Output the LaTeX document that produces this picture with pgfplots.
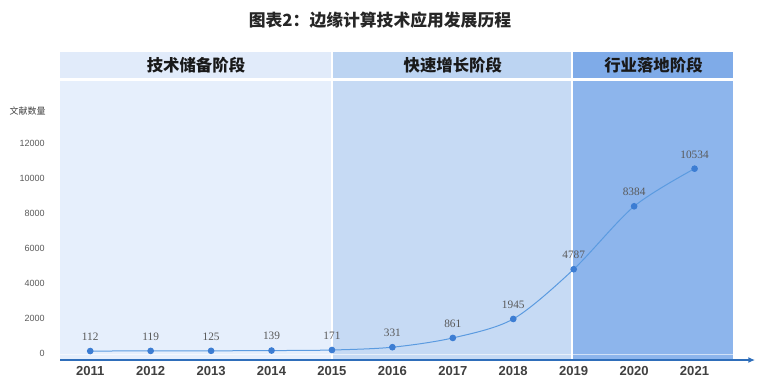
\documentclass[border=0pt]{standalone}
\usepackage{pgfplots}
\pgfplotsset{compat=1.18}
\usepackage{fontspec}
\setmainfont{Liberation Sans}
\newfontfamily\cjk{Noto Sans CJK SC}
\newfontfamily\numserif{Liberation Serif}
\usetikzlibrary{arrows.meta}
\definecolor{p1}{HTML}{E6EFFC}
\definecolor{p1h}{HTML}{E1EBFA}
\definecolor{p2}{HTML}{C6DAF4}
\definecolor{p2h}{HTML}{BCD4F2}
\definecolor{p3}{HTML}{8DB5EC}
\definecolor{p3h}{HTML}{7FABE8}
\definecolor{axblue}{HTML}{2F6EBA}
\definecolor{lineblue}{HTML}{5B9BE0}
\definecolor{markblue}{HTML}{3C7DD3}
\definecolor{txtgrey}{HTML}{595959}
\definecolor{darktxt}{HTML}{404040}
\begin{document}
\begin{tikzpicture}[x=1pt,y=1pt]
\path[use as bounding box] (0,0) rectangle (570,290.25);
\node[font=\cjk\bfseries\fontsize{12.6}{14}\selectfont, text=black!85] at (285,274.9) {图表2：边缘计算技术应用发展历程};
\begin{axis}[
  at={(45pt,20.25pt)}, anchor=south west,
  scale only axis, width=521.25pt, height=231pt,
  xmin=2010.5, xmax=2022.0, ymin=-400, ymax=17200,
  clip=false, axis on top,
  axis lines=left,
  x axis line style={-{Latex[length=5pt,width=4.5pt]}, line width=1.5pt, draw=axblue},
  y axis line style={draw=none},
  major tick length=0pt,
  tick style={draw=none},
  scaled y ticks=false,
  /pgf/number format/assume math mode=true,
  /pgf/number format/1000 sep={},
  xtick={2011,2012,...,2021},
  ytick={0,2000,...,12000},
  xticklabel style={font=\bfseries\fontsize{9.8}{11}\selectfont, text=darktxt, inner sep=0pt, anchor=north, yshift=-4.5pt},
  yticklabel style={font=\fontsize{6.75}{8}\selectfont, text=txtgrey, inner sep=0pt, anchor=east, xshift=-11.25pt},
  nodes near coords,
  nodes near coords style={font=\numserif\fontsize{8.5}{10}\selectfont, text=txtgrey, inner sep=0pt, anchor=south, yshift=7.5pt},
]
% panels
\fill[p1] (axis cs:2010.5,-400) rectangle (axis cs:2014.985,15543);
\fill[p2] (axis cs:2015.02,-400) rectangle (axis cs:2018.95,15543);
\fill[p3] (axis cs:2018.99,-400) rectangle (axis cs:2021.64,15543);
\fill[p1h] (axis cs:2010.5,15714) rectangle (axis cs:2014.985,17200);
\fill[p2h] (axis cs:2015.02,15714) rectangle (axis cs:2018.95,17200);
\fill[p3h] (axis cs:2018.99,15714) rectangle (axis cs:2021.64,17200);
\draw[white, opacity=0.6, line width=0.75pt] (axis cs:2010.5,-60) -- (axis cs:2021.64,-60);
\node[font=\cjk\bfseries\fontsize{12.3}{14}\selectfont, text=black!90] at (axis cs:2012.75,16457) {技术储备阶段};
\node[font=\cjk\bfseries\fontsize{12.3}{14}\selectfont, text=black!90] at (axis cs:2017,16457) {快速增长阶段};
\node[font=\cjk\bfseries\fontsize{12.3}{14}\selectfont, text=black!90] at (axis cs:2020.32,16457) {行业落地阶段};
\node[font=\cjk\fontsize{6.75}{8}\selectfont, text=darktxt, anchor=east, inner sep=0pt] at ([xshift=-10.5pt]axis cs:2010.5,13829) {文献数量};
\addplot[smooth, color=lineblue, line width=0.75pt, mark=*, mark size=2.1pt, mark options={fill=markblue, draw=markblue}] coordinates {
(2011,112) (2012,119) (2013,125) (2014,139) (2015,171) (2016,331) (2017,861) (2018,1945) (2019,4787) (2020,8384) (2021,10534)
};
\end{axis}
\end{tikzpicture}
\end{document}
